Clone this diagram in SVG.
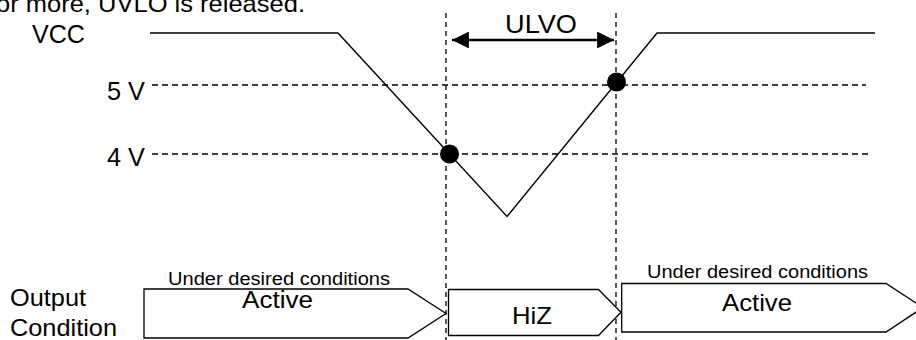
<svg xmlns="http://www.w3.org/2000/svg" width="916" height="340" viewBox="0 0 916 340">
<style>
text { font-family: "Liberation Sans", Arial, sans-serif; fill: #000; }
.dash { fill: none; stroke: #000; stroke-width: 1.3; stroke-dasharray: 6 4; }
.vdash { fill: none; stroke: #000; stroke-width: 1.3; stroke-dasharray: 5 4; }
.wave { fill: none; stroke: #000; stroke-width: 1.4; stroke-linejoin: miter; }
.box { fill: #fff; stroke: #000; stroke-width: 1.3; }
.dot { fill: #000; }
</style>
<defs>
<marker id="ah" viewBox="0 0 10 10" refX="10" refY="5" markerWidth="6.5" markerHeight="6.5" markerUnits="strokeWidth" orient="auto-start-reverse">
<path d="M0,0 L10,5 L0,10 z" fill="#000"/>
</marker>
</defs>
<rect width="916" height="340" fill="#fff"/>
<text x="-4" y="12" font-size="24" textLength="309" lengthAdjust="spacingAndGlyphs">or more, UVLO is released.</text>
<g id="axis-labels">
<text x="32" y="42.5" font-size="25" textLength="53" lengthAdjust="spacingAndGlyphs">VCC</text>
<text x="107" y="99.5" font-size="25" textLength="38" lengthAdjust="spacingAndGlyphs">5 V</text>
<text x="107" y="166" font-size="25" textLength="38" lengthAdjust="spacingAndGlyphs">4 V</text>
<text x="10" y="306" font-size="24" textLength="76" lengthAdjust="spacingAndGlyphs">Output</text>
<text x="10" y="335.5" font-size="24" textLength="107" lengthAdjust="spacingAndGlyphs">Condition</text>
</g>
<g id="grid">
<line class="dash" x1="152" y1="85" x2="866" y2="85"/>
<line class="dash" x1="152" y1="154" x2="870" y2="154"/>
<line class="vdash" x1="446" y1="13" x2="446" y2="340"/>
<line class="vdash" x1="616" y1="13" x2="616" y2="340"/>
</g>
<g id="vcc-waveform">
<polyline class="wave" points="150,33 338,33 507,216.5 657,33 875,33"/>
<circle class="dot" cx="449.5" cy="154" r="9.5"/>
<circle class="dot" cx="616.5" cy="82" r="9.5"/>
</g>
<g id="connectors">
<line x1="452" y1="40" x2="614" y2="40" stroke="#000" stroke-width="2.6" marker-start="url(#ah)" marker-end="url(#ah)"/>
<text x="541" y="33" font-size="26" text-anchor="middle" textLength="72" lengthAdjust="spacingAndGlyphs">ULVO</text>
</g>
<g id="active-1">
<polygon class="box" points="144,289 408,289 446,313.5 408,338 144,338"/>
<text x="168" y="284.5" font-size="18" textLength="222" lengthAdjust="spacingAndGlyphs">Under desired conditions</text>
<text x="242" y="308" font-size="23" textLength="71" lengthAdjust="spacingAndGlyphs">Active</text>
</g>
<g id="hiz">
<polygon class="box" points="448.5,289.5 598.5,289.5 621,312.3 598.5,335.5 448.5,335.5"/>
<text x="512" y="324" font-size="24" textLength="40" lengthAdjust="spacingAndGlyphs">HiZ</text>
</g>
<g id="active-2">
<polygon class="box" points="621.7,283.5 886,283.5 923,307.5 886,332 621.7,332"/>
<text x="647" y="278" font-size="18" textLength="221" lengthAdjust="spacingAndGlyphs">Under desired conditions</text>
<text x="722" y="310.5" font-size="24" textLength="70" lengthAdjust="spacingAndGlyphs">Active</text>
</g>
</svg>
